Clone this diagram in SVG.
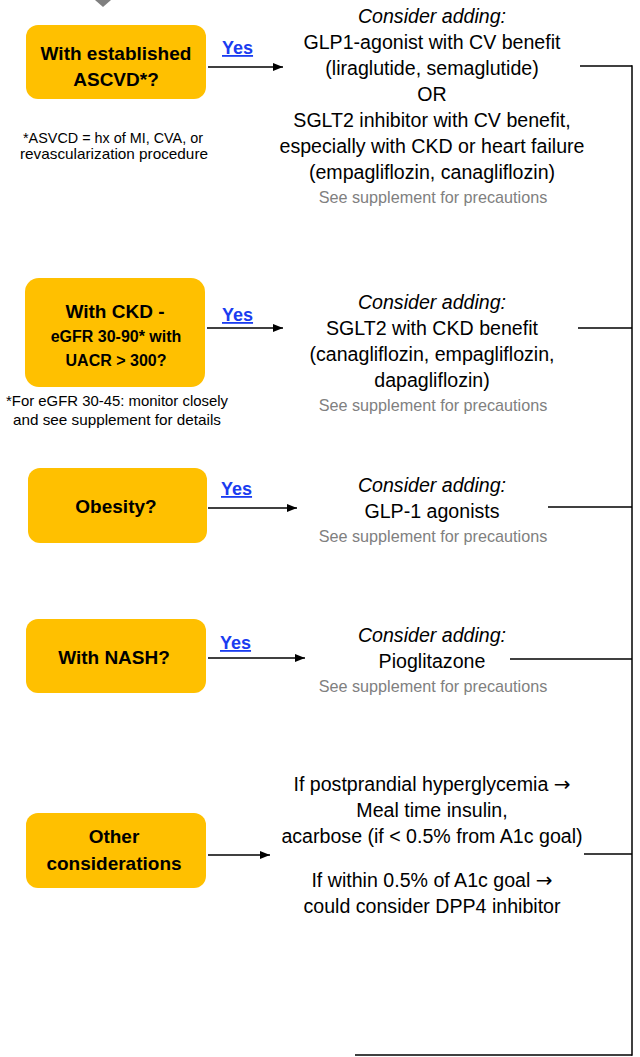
<svg xmlns="http://www.w3.org/2000/svg" width="640" height="1057" viewBox="0 0 640 1057">
<defs>
<marker id="ah" markerWidth="10" markerHeight="8" refX="10" refY="4" orient="auto" markerUnits="userSpaceOnUse">
<path d="M0,0 L10,4 L0,8 Z" fill="#000"/>
</marker>
<style>
.box{fill:#FFC000;}
.bt{font-family:"Liberation Sans",Arial,sans-serif;font-weight:bold;font-size:19px;fill:#000;text-anchor:middle;}
.bs{font-family:"Liberation Sans",Arial,sans-serif;font-weight:bold;font-size:16px;fill:#000;text-anchor:middle;}
.t{font-family:"Liberation Sans",Arial,sans-serif;font-size:19.6px;fill:#000;text-anchor:middle;}
.i{font-style:italic;}
.g{font-family:"Liberation Sans",Arial,sans-serif;font-size:16.2px;fill:#808080;text-anchor:middle;}
.n{font-family:"Liberation Sans",Arial,sans-serif;font-size:14.2px;fill:#000;text-anchor:middle;}
.y{font-family:"Liberation Sans",Arial,sans-serif;font-weight:bold;font-size:18px;fill:#1a3cf0;text-decoration:underline;}
.ar{font-family:"DejaVu Sans",sans-serif;font-size:20px;}
.c{stroke:#000;stroke-width:1.5;fill:none;}
</style>
</defs>
<rect width="640" height="1057" fill="#fff"/>

<g id="connectors">
<polygon points="95,0 111,0 103,7" fill="#7f7f7f"/>
<line class="c" x1="208" y1="67" x2="283" y2="67" marker-end="url(#ah)"/>
<line class="c" x1="207" y1="328" x2="283" y2="328" marker-end="url(#ah)"/>
<line class="c" x1="208" y1="508" x2="297" y2="508" marker-end="url(#ah)"/>
<line class="c" x1="208" y1="658" x2="305" y2="658" marker-end="url(#ah)"/>
<line class="c" x1="208" y1="855" x2="270" y2="855" marker-end="url(#ah)"/>
<line class="c" x1="580" y1="66" x2="632" y2="66"/>
<line class="c" x1="578" y1="328" x2="632" y2="328"/>
<line class="c" x1="548" y1="507" x2="632" y2="507"/>
<line class="c" x1="510" y1="659" x2="632" y2="659"/>
<line class="c" x1="584" y1="854" x2="632" y2="854"/>
<line class="c" x1="355" y1="1055" x2="632" y2="1055"/>
<line class="c" x1="632" y1="65.25" x2="632" y2="1055.75"/>
</g>

<g id="node-ascvd">
<rect class="box" x="26" y="25" width="180" height="74" rx="12"/>
<text class="bt" x="116" y="60">With established</text>
<text class="bt" x="116" y="86">ASCVD*?</text>
<text class="y" x="222" y="54">Yes</text>
<text class="n" x="113" y="143" textLength="180" lengthAdjust="spacingAndGlyphs">*ASVCD = hx of MI, CVA, or</text>
<text class="n" x="114" y="159" textLength="188" lengthAdjust="spacingAndGlyphs">revascularization procedure</text>
</g>

<g id="node-ascvd-rx">
<text class="t i" x="432" y="23">Consider adding:</text>
<text class="t" x="432" y="49">GLP1-agonist with CV benefit</text>
<text class="t" x="432" y="75">(liraglutide, semaglutide)</text>
<text class="t" x="432" y="101">OR</text>
<text class="t" x="432" y="127">SGLT2 inhibitor with CV benefit,</text>
<text class="t" x="432" y="153">especially with CKD or heart failure</text>
<text class="t" x="432" y="179">(empagliflozin, canagliflozin)</text>
<text class="g" x="433" y="203">See supplement  for precautions</text>
</g>

<g id="node-ckd">
<rect class="box" x="25" y="278" width="180" height="109" rx="14"/>
<text class="bt" x="115" y="318">With CKD -</text>
<text class="bs" x="116" y="342">eGFR 30-90*  with</text>
<text class="bs" x="116" y="366">UACR &gt; 300?</text>
<text class="y" x="222" y="321">Yes</text>
<text class="n" x="117" y="406" textLength="222" lengthAdjust="spacingAndGlyphs">*For eGFR 30-45: monitor closely</text>
<text class="n" x="117" y="425" textLength="208" lengthAdjust="spacingAndGlyphs">and see supplement for details</text>
</g>

<g id="node-ckd-rx">
<text class="t i" x="432" y="309">Consider adding:</text>
<text class="t" x="432" y="335">SGLT2 with CKD benefit</text>
<text class="t" x="432" y="361">(canagliflozin, empagliflozin,</text>
<text class="t" x="432" y="387">dapagliflozin)</text>
<text class="g" x="433" y="411">See supplement  for precautions</text>
</g>

<g id="node-obesity">
<rect class="box" x="28" y="468" width="179" height="75" rx="12"/>
<text class="bt" x="116" y="513">Obesity?</text>
<text class="y" x="221" y="495">Yes</text>
</g>

<g id="node-obesity-rx">
<text class="t i" x="432" y="492">Consider adding:</text>
<text class="t" x="432" y="518">GLP-1 agonists</text>
<text class="g" x="433" y="542">See supplement  for precautions</text>
</g>

<g id="node-nash">
<rect class="box" x="26" y="619" width="180" height="74" rx="12"/>
<text class="bt" x="114" y="664">With NASH?</text>
<text class="y" x="220" y="649">Yes</text>
</g>

<g id="node-nash-rx">
<text class="t i" x="432" y="642">Consider adding:</text>
<text class="t" x="432" y="668">Pioglitazone</text>
<text class="g" x="433" y="692">See supplement  for precautions</text>
</g>

<g id="node-other">
<rect class="box" x="26" y="813" width="180" height="75" rx="12"/>
<text class="bt" x="114" y="843">Other</text>
<text class="bt" x="114" y="870">considerations</text>
</g>

<g id="node-other-rx">
<text class="t" x="432" y="791">If postprandial hyperglycemia <tspan class="ar">→</tspan></text>
<text class="t" x="432" y="817">Meal time insulin,</text>
<text class="t" x="432" y="843">acarbose (if &lt; 0.5% from A1c goal)</text>
<text class="t" x="432" y="887">If within 0.5% of A1c goal <tspan class="ar">→</tspan></text>
<text class="t" x="432" y="913">could consider DPP4 inhibitor</text>
</g>
</svg>
